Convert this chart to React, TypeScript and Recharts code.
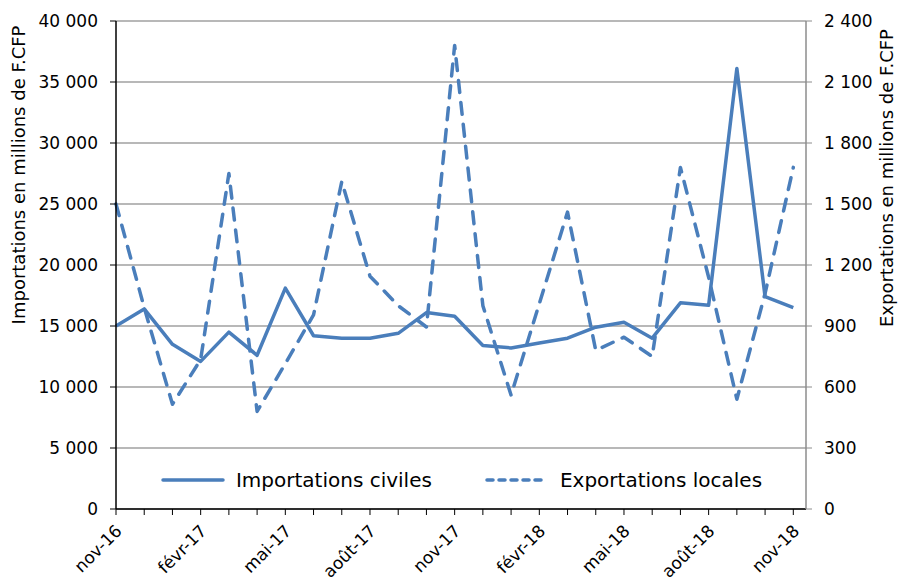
import React from "react";
import {
  CartesianGrid,
  Legend,
  Line,
  LineChart,
  XAxis,
  YAxis,
} from "recharts";

const months = [
  "nov-16", "déc-16", "janv-17", "févr-17", "mars-17", "avr-17", "mai-17",
  "juin-17", "juil-17", "août-17", "sept-17", "oct-17", "nov-17", "déc-17",
  "janv-18", "févr-18", "mars-18", "avr-18", "mai-18", "juin-18", "juil-18",
  "août-18", "sept-18", "oct-18", "nov-18",
];

// millions de F.CFP
const importations = [
  15000, 16400, 13500, 12100, 14500, 12600, 18100, 14200, 14000, 14000,
  14400, 16100, 15800, 13400, 13200, 13600, 14000, 14900, 15300, 14000,
  16900, 16700, 36100, 17400, 16500,
];

const exportations = [
  1500, 990, 515, 735, 1650, 480, 715, 955, 1610, 1145,
  1000, 895, 2280, 1000, 560, 1010, 1460, 780, 845, 750,
  1680, 1140, 540, 1060, 1680,
];

const leftTicks = [0, 5000, 10000, 15000, 20000, 25000, 30000, 35000, 40000];
const rightTicks = [0, 300, 600, 900, 1200, 1500, 1800, 2100, 2400];

const data = months.map((m, i) => ({
  idx: i,
  month: m,
  importations: importations[i],
  exportations: exportations[i],
}));

const BLUE = "#4a7ebb";
const FONT = "'DejaVu Sans', sans-serif";
const W = 903;
const H = 583;

const fmt = (v: number) => String(v).replace(/\B(?=(\d{3})+(?!\d))/g, " ");

function MonthTick(props: any) {
  const { x, y, payload } = props;
  if (payload.value % 3 !== 0) return <g />;
  return (
    <g transform={`translate(${x},${y})`}>
      <text
        x={7}
        y={15}
        textAnchor="end"
        transform="rotate(-45 7 15)"
        fontFamily={FONT}
        fontSize={17}
        fill="#000"
      >
        {months[payload.value]}
      </text>
    </g>
  );
}

function axisTitle(text: string, x: number, y: number) {
  return () => (
    <text
      x={x}
      y={y}
      textAnchor="middle"
      transform={`rotate(-90 ${x} ${y})`}
      fontFamily={FONT}
      fontSize={18}
      fill="#000"
    >
      {text}
    </text>
  );
}

function LegendBox() {
  const item = (label: string, dashed: boolean) => (
    <div style={{ display: "flex", alignItems: "center" }}>
      <svg width={66} height={10}>
        <line
          x1={3}
          y1={5}
          x2={63}
          y2={5}
          stroke={BLUE}
          strokeWidth={3.5}
          strokeLinecap="round"
          strokeDasharray={dashed ? "6 6" : undefined}
        />
      </svg>
      <span style={{ marginLeft: 10 }}>{label}</span>
    </div>
  );
  return (
    <div
      style={{
        display: "flex",
        justifyContent: "center",
        alignItems: "center",
        gap: 52,
        fontFamily: FONT,
        fontSize: 20,
        color: "#000",
        lineHeight: "24px",
      }}
    >
      {item("Importations civiles", false)}
      {item("Exportations locales", true)}
    </div>
  );
}

export default function App() {
  return (
    <div style={{ position: "absolute", left: 0, top: 0, width: W, height: H, background: "#fff" }}>
      <LineChart
        width={W}
        height={H}
        data={data}
        margin={{ top: 21, right: 0, bottom: 0, left: 0 }}
      >
        <CartesianGrid
          yAxisId="left"
          vertical={false}
          stroke="#a0a0a0"
          strokeWidth={1.5}
        />
        <XAxis
          dataKey="idx"
          type="number"
          domain={[0, 24.45]}
          ticks={months.map((_, i) => i)}
          interval={0}
          height={74}
          tick={<MonthTick />}
          tickSize={6}
          tickMargin={2}
          axisLine={{ stroke: "#000", strokeWidth: 1.5 }}
          tickLine={{ stroke: "#000", strokeWidth: 1 }}
        />
        <YAxis
          yAxisId="left"
          orientation="left"
          width={116}
          domain={[0, 40000]}
          ticks={leftTicks}
          interval={0}
          tickFormatter={fmt}
          tickSize={6}
          tickMargin={12}
          tick={{ fontFamily: FONT, fontSize: 17, fill: "#000" }}
          axisLine={{ stroke: "#000", strokeWidth: 1.5 }}
          tickLine={{ stroke: "#000" }}
          label={axisTitle("Importations en millions de F.CFP", 25, 175)}
        />
        <YAxis
          yAxisId="right"
          orientation="right"
          width={97}
          domain={[0, 2400]}
          ticks={rightTicks}
          interval={0}
          tickFormatter={fmt}
          tickSize={6}
          tickMargin={12}
          tick={{ fontFamily: FONT, fontSize: 17, fill: "#000" }}
          axisLine={{ stroke: "#8c8c8c", strokeWidth: 1.5 }}
          tickLine={{ stroke: "#8c8c8c" }}
          label={axisTitle("Exportations en millions de F.CFP", 893, 178)}
        />
        <Legend
          layout="horizontal"
          verticalAlign="middle"
          align="center"
          content={() => <LegendBox />}
          wrapperStyle={{ top: 468, left: 116, width: 690, height: 26 }}
        />
        <Line
          yAxisId="left"
          type="linear"
          dataKey="importations"
          name="Importations civiles"
          stroke={BLUE}
          strokeWidth={3.5}
          strokeLinejoin="round"
          dot={false}
          activeDot={false}
          isAnimationActive={false}
        />
        <Line
          yAxisId="right"
          type="linear"
          dataKey="exportations"
          name="Exportations locales"
          stroke={BLUE}
          strokeWidth={3.5}
          strokeDasharray="12 10"
          strokeLinecap="round"
          strokeLinejoin="round"
          dot={false}
          activeDot={false}
          isAnimationActive={false}
        />
      </LineChart>
    </div>
  );
}
